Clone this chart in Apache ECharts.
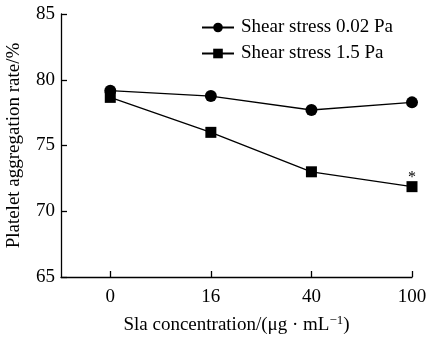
<!DOCTYPE html>
<html><head><meta charset="utf-8">
<script src="https://cdn.jsdelivr.net/npm/echarts@6/dist/echarts.min.js"></script>
<style>html,body{margin:0;padding:0;background:#fff}#c{width:427px;height:340px}</style>
</head><body><div id="c"></div>
<script>
var categories = ['0', '16', '40', '100'];
var lowShear = [79.17, 78.76, 77.70, 78.28];
var highShear = [78.66, 76.00, 73.00, 71.87];
var seriesNames = ['Shear stress 0.02 Pa', 'Shear stress 1.5 Pa'];
var yTicks = [65, 70, 75, 80, 85];
var xTitle = 'Sla concentration/(μg · mL{sup|−1})';
var yTitle = 'Platelet aggregation rate/%';

var font = 'Liberation Serif';
var chart = echarts.init(document.getElementById('c'), null, {renderer: 'canvas'});
function pts(arr, starIdx) {
  return arr.map(function (v, i) {
    var d = {value: [i, v]};
    if (i === starIdx) d.label = {show: true, formatter: '*', position: 'top', distance: 0, offset: [0, 5], color: '#000', fontSize: 16, fontFamily: font};
    return d;
  });
}
chart.setOption({
  animation: false,
  textStyle: {fontFamily: font, color: '#000'},
  grid: {left: 61, right: 15, top: 14, bottom: 63, containLabel: false, outerBoundsMode: 'none'},
  legend: {
    top: 18, left: 201, orient: 'vertical', itemGap: 7, padding: 0,
    itemWidth: 32, itemHeight: 12,
    textStyle: {fontFamily: font, fontSize: 19, color: '#000', padding: [0, 0, 0, 2]},
    data: seriesNames
  },
  xAxis: {
    type: 'value', min: -0.49, max: 3,
    name: xTitle, nameLocation: 'middle', nameGap: 37,
    nameTextStyle: {fontFamily: font, fontSize: 19, color: '#000',
      rich: {sup: {fontFamily: font, fontSize: 13, color: '#000', verticalAlign: 'top', padding: [0, 0, 10, 0]}}},
    axisLine: {onZero: false, lineStyle: {color: '#000', width: 1.3}},
    axisTick: {inside: true, length: 6, customValues: [0, 1, 2, 3], lineStyle: {color: '#000', width: 1.3}},
    axisLabel: {customValues: [0, 1, 2, 3], formatter: function (v) { return categories[Math.round(v)]; }, fontSize: 19, fontFamily: font, color: '#000', margin: 11},
    splitLine: {show: false}
  },
  yAxis: {
    type: 'value', min: yTicks[0], max: yTicks[yTicks.length - 1], interval: 5,
    name: yTitle, nameLocation: 'middle', nameGap: 37,
    nameTextStyle: {fontFamily: font, fontSize: 19, color: '#000'},
    axisLine: {show: true, onZero: false, lineStyle: {color: '#000', width: 1.3}},
    axisTick: {show: true, inside: true, length: 6, lineStyle: {color: '#000', width: 1.3}},
    axisLabel: {fontSize: 19, fontFamily: font, color: '#000', margin: 6},
    splitLine: {show: false}
  },
  series: [
    {name: seriesNames[0], type: 'line', data: pts(lowShear, -1), symbol: 'circle', symbolSize: 12,
     itemStyle: {color: '#000'}, lineStyle: {color: '#000', width: 1.3}},
    {name: seriesNames[1], type: 'line', data: pts(highShear, 3), symbol: 'rect', symbolSize: 11,
     itemStyle: {color: '#000'}, lineStyle: {color: '#000', width: 1.3}}
  ]
});
</script></body></html>
